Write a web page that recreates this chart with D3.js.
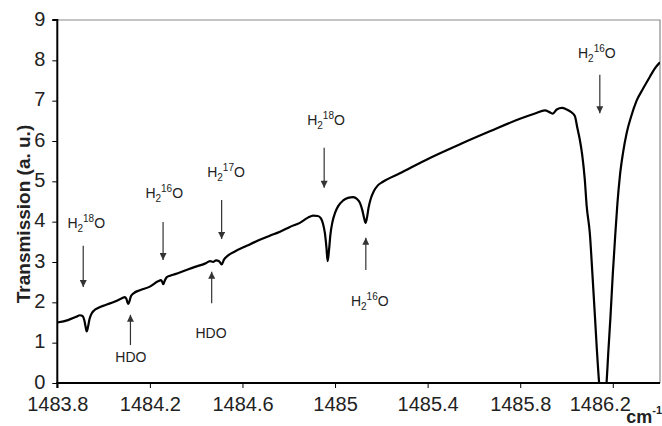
<!DOCTYPE html>
<html>
<head>
<meta charset="utf-8">
<script src="https://cdn.jsdelivr.net/npm/d3@7"></script>
<style>
  html, body { margin: 0; padding: 0; background: #fff; }
  svg { display: block; font-family: "Liberation Sans", Arial, sans-serif; }
</style>
</head>
<body>
<svg id="chart" width="662" height="426"></svg>
<script>
// ---- data ----
const wavenumber = [
  1483.800, 1483.846, 1483.881, 1483.898, 1483.909, 1483.917, 1483.922, 1483.927, 1483.933, 1483.939,
  1483.948, 1483.959, 1483.976, 1484.006, 1484.049, 1484.079, 1484.092, 1484.099, 1484.103, 1484.107,
  1484.113, 1484.118, 1484.131, 1484.157, 1484.200, 1484.235, 1484.248, 1484.254, 1484.258, 1484.263,
  1484.272, 1484.287, 1484.309, 1484.352, 1484.395, 1484.438, 1484.460, 1484.473, 1484.486, 1484.499,
  1484.510, 1484.520, 1484.537, 1484.567, 1484.618, 1484.675, 1484.718, 1484.762, 1484.805, 1484.848,
  1484.883, 1484.905, 1484.926, 1484.939, 1484.948, 1484.956, 1484.963, 1484.968, 1484.974, 1484.980,
  1484.989, 1485.000, 1485.013, 1485.034, 1485.056, 1485.078, 1485.095, 1485.108, 1485.118, 1485.126,
  1485.132, 1485.138, 1485.145, 1485.155, 1485.168, 1485.185, 1485.207, 1485.280, 1485.410, 1485.540,
  1485.669, 1485.799, 1485.864, 1485.907, 1485.928, 1485.941, 1485.958, 1485.980, 1486.001, 1486.019,
  1486.036, 1486.047, 1486.057, 1486.068, 1486.079, 1486.087, 1486.101, 1486.112, 1486.123, 1486.131,
  1486.141, 1486.149, 1486.157, 1486.166, 1486.173, 1486.181, 1486.190, 1486.200, 1486.211, 1486.220,
  1486.231, 1486.244, 1486.260, 1486.279, 1486.303, 1486.331, 1486.361, 1486.382, 1486.404
];
const transmission = [
  1.50, 1.56, 1.64, 1.68, 1.66, 1.55, 1.40, 1.28, 1.40, 1.58,
  1.72, 1.80, 1.86, 1.93, 2.02, 2.10, 2.13, 2.08, 2.00, 1.96,
  2.05, 2.15, 2.23, 2.30, 2.39, 2.52, 2.55, 2.50, 2.45, 2.52,
  2.62, 2.66, 2.70, 2.79, 2.88, 2.96, 3.02, 3.00, 3.04, 3.02,
  2.94, 3.06, 3.16, 3.26, 3.40, 3.55, 3.65, 3.75, 3.87, 3.97,
  4.10, 4.15, 4.14, 4.08, 3.95, 3.72, 3.35, 3.02, 3.30, 3.68,
  4.00, 4.22, 4.38, 4.52, 4.59, 4.61, 4.56, 4.46, 4.28, 4.08,
  3.97, 4.10, 4.35, 4.58, 4.76, 4.90, 4.99, 5.20, 5.58, 5.92,
  6.24, 6.55, 6.68, 6.76, 6.71, 6.68, 6.78, 6.82, 6.78, 6.72,
  6.62, 6.32, 6.05, 5.65, 5.05, 4.40, 3.70, 2.70, 1.64, 0.85,
  0.00, -0.45, -0.60, -0.45, 0.00, 0.80, 1.64, 2.70, 3.70, 4.45,
  5.15, 5.70, 6.20, 6.60, 7.00, 7.30, 7.60, 7.80, 7.95
];

const yTicks = [0, 1, 2, 3, 4, 5, 6, 7, 8, 9];
const xTicks = [1483.8, 1484.2, 1484.6, 1485.0, 1485.4, 1485.8, 1486.2];
const xTickLabels = ["1483.8", "1484.2", "1484.6", "1485", "1485.4", "1485.8", "1486.2"];

// annotations: species label (base, isotope superscript), arrow x, arrow tail/tip values, label position
const annSpecies = ["H2O", "HDO", "H2O", "HDO", "H2O", "H2O", "H2O", "H2O"];
const annIsotope = ["18", "", "16", "", "17", "18", "16", "16"];
const annArrowX = [1483.912, 1484.116, 1484.257, 1484.467, 1484.510, 1484.953, 1485.133, 1486.144];
const annTail = [3.40, 0.94, 3.99, 1.98, 4.54, 5.83, 2.80, 7.64];
const annTip = [2.38, 1.69, 3.05, 2.76, 3.57, 4.84, 3.60, 6.69];
const annLabelX = [1483.925, 1484.118, 1484.262, 1484.464, 1484.529, 1484.961, 1485.150, 1486.131];
const annLabelY = [3.84, 0.52, 4.58, 1.12, 5.10, 6.40, 1.92, 8.06];

// ---- layout ----
const svg = d3.select("#chart");
const margin = { left: 57.3, top: 20, right: 2, bottom: 43 };
const W = 662, H = 426;
const x = d3.scaleLinear().domain([1483.8, 1486.404]).range([margin.left, W - margin.right]);
const y = d3.scaleLinear().domain([0, 9]).range([H - margin.bottom, margin.top]);

// frame (top/right grey)
svg.append("path")
  .attr("d", `M${x.range()[0]},${y(9)}H${x.range()[1]}V${y(0)}`)
  .attr("fill", "none").attr("stroke", "#8a8a8a").attr("stroke-width", 1.2);

// clip
svg.append("defs").append("clipPath").attr("id", "clip")
  .append("rect").attr("x", x.range()[0]).attr("y", y(9))
  .attr("width", x.range()[1] - x.range()[0]).attr("height", y(0) - y(9));

// line
const pts = wavenumber.map((w, i) => [w, transmission[i]]);
const line = d3.line().x(d => x(d[0])).y(d => y(d[1])).curve(d3.curveMonotoneX);
svg.append("path").datum(pts)
  .attr("clip-path", "url(#clip)")
  .attr("d", line).attr("fill", "none").attr("stroke", "#000")
  .attr("stroke-width", 2.2).attr("stroke-linejoin", "round");

// axes
const yAxis = d3.axisLeft(y).tickValues(yTicks).tickSize(5).tickPadding(7).tickFormat(d3.format("d"));
const gy = svg.append("g").attr("transform", `translate(${x.range()[0]},0)`).call(yAxis);
const xAxis = d3.axisBottom(x).tickValues(xTicks).tickSize(5).tickPadding(9)
  .tickFormat((d, i) => xTickLabels[i]);
const gx = svg.append("g").attr("transform", `translate(0,${y(0)})`).call(xAxis);
[gx, gy].forEach(g => {
  g.select(".domain").attr("stroke", "#000").attr("stroke-width", 2);
  g.selectAll(".tick line").attr("stroke", "#000").attr("stroke-width", 1);
  g.selectAll(".tick text").attr("fill", "#222").style("font-size", "20px")
    .style("font-family", "'Liberation Sans', Arial, sans-serif");
});
gy.select(".domain").attr("d", `M-5,${y(9)}H0V${y(0)}`);
gx.select(".domain").attr("d", `M${x.range()[0]},5V0H${x.range()[1]}`);
gx.selectAll(".tick text").attr("dy", "0.71em");
gy.selectAll(".tick text").attr("dy", "0.26em");
// last x label is nudged left to leave room for the unit
gx.selectAll(".tick text").filter((d, i) => i === xTicks.length - 1).attr("dx", -13);

// y title
svg.append("text")
  .attr("transform", `translate(30,214) rotate(-90)`)
  .attr("text-anchor", "middle").attr("font-weight", "bold").attr("font-size", 19)
  .attr("fill", "#222").text("Transmission (a. u.)");

// x unit
const unit = svg.append("text").attr("x", 662).attr("y", 423).attr("text-anchor", "end")
  .attr("font-weight", "bold").attr("font-size", 18).attr("fill", "#222");
unit.append("tspan").text("cm");
unit.append("tspan").attr("dy", -9).attr("font-size", 11).text("-1");

// arrow marker
svg.append("defs").append("marker").attr("id", "ah")
  .attr("viewBox", "0 0 10 10").attr("refX", 10).attr("refY", 5)
  .attr("markerUnits", "userSpaceOnUse").attr("markerWidth", 8).attr("markerHeight", 7)
  .attr("orient", "auto")
  .append("path").attr("d", "M0,0L10,5L0,10Z").attr("fill", "#333");

annSpecies.forEach((sp, i) => {
  svg.append("line")
    .attr("x1", x(annArrowX[i])).attr("x2", x(annArrowX[i]))
    .attr("y1", y(annTail[i])).attr("y2", y(annTip[i]))
    .attr("stroke", "#333").attr("stroke-width", 1.2).attr("marker-end", "url(#ah)");
  const t = svg.append("text").attr("x", x(annLabelX[i])).attr("y", y(annLabelY[i]))
    .attr("text-anchor", "middle").attr("font-size", 14).attr("fill", "#222");
  if (sp === "H2O") {
    t.append("tspan").text("H");
    t.append("tspan").attr("font-size", 10).attr("dy", 4).text("2");
    t.append("tspan").attr("font-size", 10).attr("dy", -10).text(annIsotope[i]);
    t.append("tspan").attr("dy", 6).text("O");
  } else {
    t.text(sp);
  }
});
</script>
</body>
</html>
